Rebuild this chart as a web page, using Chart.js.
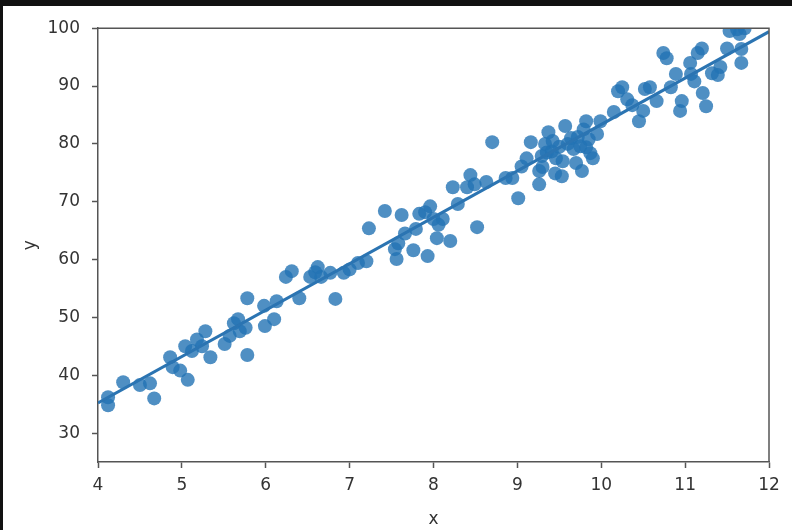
<!DOCTYPE html>
<html lang="en">
<head>
    <meta charset="UTF-8">
    <title>Regression plot</title>
    <style>
        html, body { margin: 0; padding: 0; background: #111; }
        #frame {
            position: absolute;
            left: 3px;
            top: 6px;
            width: 789px;
            height: 524px;
            background: #fff;
        }
    </style>
</head>
<body>
    <div id="frame">
        <canvas id="regChart" width="789" height="524"></canvas>
    </div>

    <script src="https://cdn.jsdelivr.net/npm/chart.js@4.4.1/dist/chart.umd.min.js"></script>
    <script>
        // scatter points
        var xValues = [
            4.12, 4.12, 4.30, 4.50, 4.62, 4.67, 4.86, 4.89, 4.98, 5.07,
            5.04, 5.12, 5.18, 5.28, 5.34, 5.51, 5.57, 5.62, 5.67, 5.69,
            5.76, 5.78, 5.78, 5.98, 5.99, 6.10, 6.13, 6.24, 6.31, 6.40,
            6.53, 6.59, 6.62, 6.77, 6.83, 6.93, 7.00, 7.10, 7.20, 7.23,
            7.42, 7.54, 7.58, 7.56, 7.62, 7.76, 7.79, 7.83, 7.90, 7.93,
            7.96, 8.00, 8.04, 8.11, 8.20, 8.23, 8.29, 8.40, 8.44, 8.49,
            8.52, 8.63, 8.70, 8.86, 8.94, 9.01, 9.05, 9.11, 9.16, 9.26,
            9.26, 9.29, 9.33, 9.37, 9.41, 9.42, 9.45, 9.46, 9.53, 9.54,
            9.57, 9.60, 9.67, 9.70, 9.72, 9.77, 9.79, 9.82, 9.82, 9.85,
            9.87, 9.90, 9.95, 9.99, 10.15, 10.20, 10.25, 10.31, 10.37, 10.45,
            10.50, 10.52, 10.58, 10.66, 10.74, 10.78, 10.83, 10.89, 10.94, 10.96,
            11.06, 11.07, 11.11, 11.15, 11.20, 11.21, 11.25, 11.32, 11.39, 11.42,
            11.50, 11.53, 11.62, 11.65, 11.67, 11.67, 11.71, 9.35, 9.50, 9.64,
            9.30, 9.75, 7.66, 8.06, 5.24, 6.66
        ];
        var yValues = [
            36.2, 34.8, 38.8, 38.3, 38.6, 36.0, 43.1, 41.4, 40.8, 39.2,
            45.0, 44.2, 46.2, 47.6, 43.1, 45.4, 46.8, 49.0, 49.7, 47.6,
            48.2, 53.3, 43.5, 52.0, 48.5, 49.7, 52.8, 57.0, 58.0, 53.3,
            57.0, 57.8, 58.7, 57.7, 53.2, 57.7, 58.3, 59.4, 59.7, 65.4,
            68.4, 61.8, 62.8, 60.1, 67.7, 61.6, 65.3, 67.9, 68.2, 60.6,
            69.2, 67.0, 63.7, 67.0, 63.2, 72.5, 69.6, 72.5, 74.6, 73.0,
            65.6, 73.4, 80.3, 74.1, 74.1, 70.6, 76.1, 77.5, 80.3, 75.3,
            73.0, 77.9, 80.0, 82.0, 78.7, 80.5, 74.9, 77.5, 74.4, 77.0,
            83.1, 80.0, 79.1, 76.7, 81.2, 75.3, 82.5, 83.9, 79.4, 80.8,
            78.4, 77.5, 81.7, 83.9, 85.5, 89.1, 89.8, 87.7, 86.7, 83.9,
            85.7, 89.5, 89.8, 87.4, 95.7, 94.8, 89.8, 92.1, 85.7, 87.4,
            94.0, 92.1, 90.8, 95.7, 96.5, 88.8, 86.5, 92.2, 91.9, 93.3,
            96.5, 99.5, 99.8, 99.0, 94.0, 96.4, 100.0, 78.5, 79.5, 81.0,
            76.0, 79.6, 64.5, 66.0, 45.0, 57.0
        ];

        // fitted line, ends read at the axis limits
        var fitX = [4, 12];
        var fitY = [35.2, 99.4];

        var xTicks = [4, 5, 6, 7, 8, 9, 10, 11, 12];
        var yTicks = [30, 40, 50, 60, 70, 80, 90, 100];

        var blue = '#2b74b2';
        var ink = '#333';
        var spine = '#555';

        var points = xValues.map(function(x, i) {
            return { x: x, y: yValues[i] };
        });
        var fitLine = fitX.map(function(x, i) {
            return { x: x, y: fitY[i] };
        });

        // top + right spines, matplotlib style box
        var boxPlugin = {
            id: 'box',
            afterDraw: function(chart) {
                var a = chart.chartArea;
                var ctx = chart.ctx;
                ctx.save();
                ctx.strokeStyle = spine;
                ctx.lineWidth = 1.5;
                ctx.beginPath();
                ctx.moveTo(a.left, a.top);
                ctx.lineTo(a.right, a.top);
                ctx.lineTo(a.right, a.bottom);
                ctx.stroke();
                ctx.restore();
            }
        };

        Chart.defaults.font.family = '"DejaVu Sans", sans-serif';
        Chart.defaults.font.size = 17;
        Chart.defaults.color = ink;

        var ctx = document.getElementById('regChart').getContext('2d');
        var regChart = new Chart(ctx, {
            type: 'scatter',
            data: {
                datasets: [{
                    label: 'data',
                    data: points,
                    pointRadius: 7,
                    pointHoverRadius: 7,
                    pointBackgroundColor: 'rgba(35,115,180,0.8)',
                    pointBorderWidth: 0,
                    clip: 0,
                    order: 2
                }, {
                    label: 'fit',
                    type: 'line',
                    data: fitLine,
                    borderColor: blue,
                    borderWidth: 3,
                    pointRadius: 0,
                    fill: false,
                    clip: 0,
                    order: 1
                }]
            },
            options: {
                responsive: false,
                animation: false,
                devicePixelRatio: 1,
                layout: { padding: { left: 0, top: 21, right: 23, bottom: 0 } },
                plugins: {
                    legend: { display: false },
                    tooltip: { enabled: false }
                },
                scales: {
                    x: {
                        type: 'linear',
                        min: 4,
                        max: 12,
                        afterBuildTicks: function(scale) {
                            scale.ticks = xTicks.map(function(v) { return { value: v }; });
                        },
                        afterFit: function(scale) { scale.height = 68; },
                        grid: { drawOnChartArea: false, tickLength: 6, color: spine, tickWidth: 1.5 },
                        border: { color: spine, width: 1.5 },
                        ticks: { padding: 7, maxRotation: 0 },
                        title: { display: true, text: 'x', padding: { top: 8, bottom: 0 } }
                    },
                    y: {
                        min: 25,
                        max: 100,
                        afterBuildTicks: function(scale) {
                            scale.ticks = yTicks.map(function(v) { return { value: v }; });
                        },
                        afterFit: function(scale) { scale.width = 95; },
                        grid: { drawOnChartArea: false, tickLength: 6, color: spine, tickWidth: 1.5 },
                        border: { color: spine, width: 1.5 },
                        ticks: { padding: 12 },
                        title: { display: true, text: 'y', padding: { top: 17, bottom: 0 } }
                    }
                }
            },
            plugins: [boxPlugin]
        });
    </script>
</body>
</html>
